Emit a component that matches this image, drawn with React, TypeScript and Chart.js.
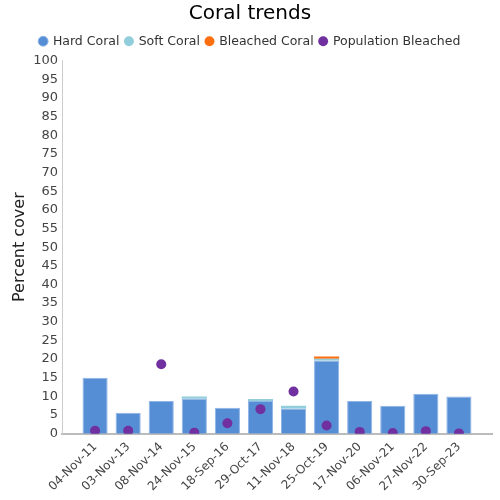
import React, { useEffect, useRef } from "react";
import { Chart, registerables } from "chart.js";

Chart.register(...registerables);

const surveyDates = [
  "04-Nov-11", "03-Nov-13", "08-Nov-14", "24-Nov-15", "18-Sep-16", "29-Oct-17",
  "11-Nov-18", "25-Oct-19", "17-Nov-20", "06-Nov-21", "27-Nov-22", "30-Sep-23",
];
const hardCoral = [15.0, 5.6, 8.8, 9.4, 7.0, 8.8, 6.8, 19.6, 8.8, 7.5, 10.7, 10.0];
const softCoral = [0, 0, 0, 0.6, 0, 0.5, 0.7, 0.5, 0, 0, 0, 0];
const bleachedCoral = [0, 0, 0, 0, 0, 0, 0, 0.6, 0, 0, 0, 0];
const populationBleached = [0.8, 0.8, 18.6, 0.3, 2.8, 6.6, 11.3, 2.2, 0.5, 0.2, 0.7, 0.1];
const yTicks = { min: 0, max: 100, step: 5 };

const FONT = "'DejaVu Sans', sans-serif";

const legendMargin = {
  id: "legendMargin",
  beforeInit(chart: any) {
    const orig = chart.legend.fit;
    chart.legend.fit = function () {
      orig.call(this);
      this.height += 3;
    };
  },
};

export default function App() {
  const ref = useRef<HTMLCanvasElement | null>(null);
  useEffect(() => {
    if (!ref.current) return;
    const toXY = (arr: number[]) => arr.map((y, i) => ({ x: i + 1, y }));
    const chart = new Chart(ref.current, {
      type: "bar",
      plugins: [legendMargin],
      data: {
        datasets: [
          {
            label: "Hard Coral",
            data: toXY(hardCoral),
            backgroundColor: "#558ed5",
            borderColor: "#8fb4e6",
            borderWidth: 1,
            stack: "cover",
            order: 1,
          },
          {
            label: "Soft Coral",
            data: toXY(softCoral),
            backgroundColor: "#92cddc",
            borderColor: "#92cddc",
            borderWidth: 0,
            stack: "cover",
            order: 1,
          },
          {
            label: "Bleached Coral",
            data: toXY(bleachedCoral),
            backgroundColor: "#fd6e0f",
            borderColor: "#fd6e0f",
            borderWidth: 0,
            stack: "cover",
            order: 1,
          },
          {
            type: "line",
            label: "Population Bleached",
            data: toXY(populationBleached),
            showLine: false,
            backgroundColor: "#7030a0",
            borderColor: "#7030a0",
            pointRadius: 5,
            pointBorderWidth: 0,
            pointHoverRadius: 5,
            stack: "pop",
            order: 0,
          } as any,
        ],
      },
      options: {
        animation: false,
        responsive: false,
        maintainAspectRatio: false,
        layout: { padding: { left: 8, right: 8, top: 2, bottom: 0 } },
        datasets: { bar: { barPercentage: 0.76, categoryPercentage: 1 } },
        plugins: {
          title: {
            display: true,
            text: "Coral trends",
            color: "#000",
            font: { family: FONT, size: 20, weight: "normal" },
            padding: { top: 0, bottom: 3 },
          },
          legend: {
            display: true,
            labels: {
              usePointStyle: true,
              pointStyle: "circle",
              boxWidth: 7,
              boxHeight: 7,
              padding: 6,
              color: "#333",
              font: { family: FONT, size: 12.5 },
              sort: (a: any, b: any) => a.datasetIndex - b.datasetIndex,
            },
          },
          tooltip: { enabled: false },
        },
        scales: {
          x: {
            type: "linear",
            offset: false,
            min: 0,
            max: surveyDates.length + 1,
            stacked: true,
            grid: { display: false, drawTicks: false },
            border: { display: true, color: "#bbb", width: 2 },
            afterFit: (scale: any) => {
              scale.paddingRight = 0;
            },
            ticks: {
              stepSize: 1,
              autoSkip: false,
              minRotation: 45,
              maxRotation: 45,
              color: "#444",
              padding: 6,
              font: { family: FONT, size: 12 },
              callback: (v: any) => surveyDates[Number(v) - 1] ?? "",
            },
          },
          y: {
            min: yTicks.min,
            max: yTicks.max,
            stacked: true,
            grid: { display: false, drawTicks: false },
            border: { display: true, color: "#ccc", width: 1 },
            ticks: {
              stepSize: yTicks.step,
              autoSkip: false,
              color: "#444",
              padding: 4,
              font: { family: FONT, size: 13 },
            },
            title: {
              display: true,
              text: "Percent cover",
              color: "#222",
              font: { family: FONT, size: 16 },
              padding: { top: 2, bottom: 0 },
            },
          },
        },
      },
    });
    return () => chart.destroy();
  }, []);
  return (
    <div style={{ position: "fixed", left: 0, top: 0, width: 500, height: 500, background: "#fff" }}>
      <canvas ref={ref} width={500} height={500} style={{ width: 500, height: 500 }} />
    </div>
  );
}
